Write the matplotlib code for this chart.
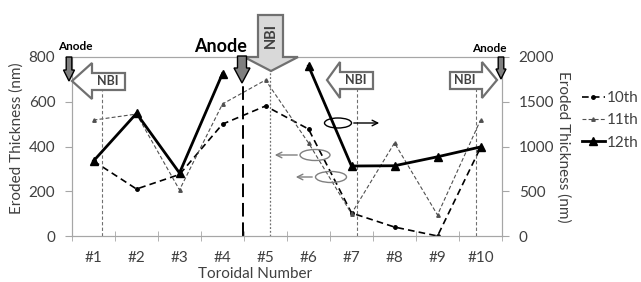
#!/usr/bin/env python3
import numpy as np
import matplotlib
matplotlib.use("Agg")
import matplotlib.pyplot as plt
from matplotlib.patches import Polygon, Ellipse

plt.rcParams['font.family'] = ['Lato', 'DejaVu Sans']

# data
labels = ['#1', '#2', '#3', '#4', '#5', '#6', '#7', '#8', '#9', '#10']
th10 = [335, 210, 275, 500, 581, 478, 103, 40, 0, 395]      # left axis
th11 = [518, 545, 206, 590, 697, 416, 100, 416, 94, 518]    # left axis
th12 = [838, 1370, 704, 1815, np.nan, 1900, 782, 785, 885, 995]  # right axis
left_ticks = [0, 200, 400, 600, 800]
right_ticks = [0, 500, 1000, 1500, 2000]

W, H = 641, 282
fig = plt.figure(figsize=(W / 100, H / 100), dpi=100, facecolor='w')
ax = fig.add_axes([72 / W, 46 / H, 430 / W, 179 / H])
ax2 = ax.twinx()

x = np.arange(len(labels))
gray = '#a6a6a6'
tcol = '#404040'
fs = 11

l10, = ax.plot(x, th10, color='black', lw=1.2, ls=(0, (4, 2.5)), marker='o', ms=2.5, label='10th')
l11, = ax.plot(x, th11, color='#505050', lw=0.8, ls=(0, (3.5, 2)), marker='^', ms=2.5, label='11th')
l12, = ax2.plot(x, th12, color='black', lw=2.0, marker='^', ms=5.5, label='12th')

ax.set_xlim(-0.5, 9.5)
ax.set_ylim(0, 800)
ax2.set_ylim(0, 2000)
ax.set_xticks(x)
ax.set_xticklabels(labels)
ax.set_xticks(np.arange(-0.5, 10, 1), minor=True)
ax.tick_params(axis='x', which='major', length=0, pad=11, labelsize=fs, labelcolor=tcol)
ax.tick_params(axis='x', which='minor', length=7, direction='inout', color=gray)
ax.set_yticks(left_ticks)
ax.tick_params(axis='y', length=5, pad=7, color=gray, labelsize=fs, labelcolor=tcol)
ax2.set_yticks(right_ticks)
ax2.tick_params(axis='y', length=5, pad=7, color=gray, labelsize=fs, labelcolor=tcol)
for a in (ax, ax2):
    for s in a.spines.values():
        s.set_color(gray)

# vertical guide lines
ax.axvline(0.2, ymax=0.81, color='#707070', lw=0.8, ls=(0, (3, 2)))
ax.axvline(3.47, ymax=0.855, color='black', lw=1.4, ls=(0, (7, 3)))
ax.axvline(4.1, ymax=0.925, color='#707070', lw=0.9, ls=(0, (1.5, 1.5)))
ax.axvline(6.13, ymax=0.82, color='#707070', lw=0.8, ls=(0, (3, 2)))
ax.axvline(8.9, ymax=0.82, color='#707070', lw=0.8, ls=(0, (3, 2)))

fig.text(17 / W, 1 - 138 / H, 'Eroded Thickness (nm)', rotation=90, ha='center', va='center',
         fontsize=fs, color=tcol)
fig.text(563 / W, 1 - 147 / H, 'Eroded Thickness (nm)', rotation=270, ha='center', va='center',
         fontsize=fs, color=tcol)
fig.text(255 / W, 1 / H, 'Toroidal Number', ha='center', va='bottom', fontsize=fs, color=tcol)

fig.legend(handles=[l10, l11, l12], loc='upper left', bbox_to_anchor=(582 / W, 1 - 91 / H),
           frameon=False, fontsize=fs, handlelength=1.5, handletextpad=0.15, labelspacing=0.55,
           borderpad=0, borderaxespad=0, labelcolor=tcol)

# overlay in pixel coordinates for the annotation shapes
ov = fig.add_axes([0, 0, 1, 1], facecolor='none')
ov.set_xlim(0, W)
ov.set_ylim(H, 0)
ov.axis('off')


def poly(pts, fc, ec='#606060', lw=1.3):
    ov.add_patch(Polygon(pts, closed=True, fc=fc, ec=ec, lw=lw, joinstyle='miter'))


def nbi_left(tip, base, right, yc):
    poly([(tip, yc), (base, yc - 18), (base, yc - 8), (right, yc - 8),
          (right, yc + 9), (base, yc + 9), (base, yc + 18)], 'white', '#707070', 1.6)


def anode(xc, top, neck, tip, bw, hw, ec='black'):
    poly([(xc - bw, top), (xc + bw, top), (xc + bw, neck), (xc + hw, neck), (xc, tip),
          (xc - hw, neck), (xc - bw, neck)], '#7f7f7f', ec, 1.0)


# NBI block arrows
nbi_left(72, 92, 125, 81)
ov.text(108, 81, 'NBI', ha='center', va='center', fontsize=9, fontweight='bold', color='#404040')
nbi_left(327, 340, 373, 80)
ov.text(356, 80, 'NBI', ha='center', va='center', fontsize=9, fontweight='bold', color='#404040')
poly([(497, 80), (482, 62), (482, 72), (450, 72), (450, 89), (482, 89), (482, 98)], 'white', '#707070', 1.6)
ov.text(465, 80, 'NBI', ha='center', va='center', fontsize=9, fontweight='bold', color='#404040')
poly([(258, 15), (283, 15), (283, 57), (298, 57), (271, 71), (244, 57), (258, 57)], '#d9d9d9', '#707070', 1.6)
ov.text(270.5, 36, 'NBI', rotation=90, ha='center', va='center', fontsize=10.5, fontweight='bold', color='#404040')

# Anode arrows
anode(69, 57, 70, 81, 2.8, 5.5)
ov.text(75, 47, 'Anode', ha='center', va='center', fontsize=8.5, fontweight='bold', color='black')
anode(242, 56, 68, 83, 4.5, 8)
ov.text(221, 47, 'Anode', ha='center', va='center', fontsize=13, fontweight='bold', color='black')
anode(501, 57, 69, 79, 2.8, 5)
ov.text(489, 48, 'Anode', ha='center', va='center', fontsize=8.5, fontweight='bold', color='black')

# series markers: ellipses with arrows
ov.add_patch(Ellipse((338, 123), 27, 10, fc='none', ec='black', lw=1.0))
ov.annotate('', xy=(382, 123), xytext=(351, 123),
            arrowprops=dict(arrowstyle='->', color='black', lw=1.0))
ov.add_patch(Ellipse((315, 155), 30, 11, fc='none', ec='#808080', lw=1.0))
ov.annotate('', xy=(272, 155), xytext=(300, 155),
            arrowprops=dict(arrowstyle='->', color='#808080', lw=1.0))
ov.add_patch(Ellipse((331, 177), 31, 11, fc='none', ec='#808080', lw=1.0))
ov.annotate('', xy=(293, 177), xytext=(315, 177),
            arrowprops=dict(arrowstyle='->', color='#808080', lw=1.0))

fig.savefig('out.png', dpi=100)
